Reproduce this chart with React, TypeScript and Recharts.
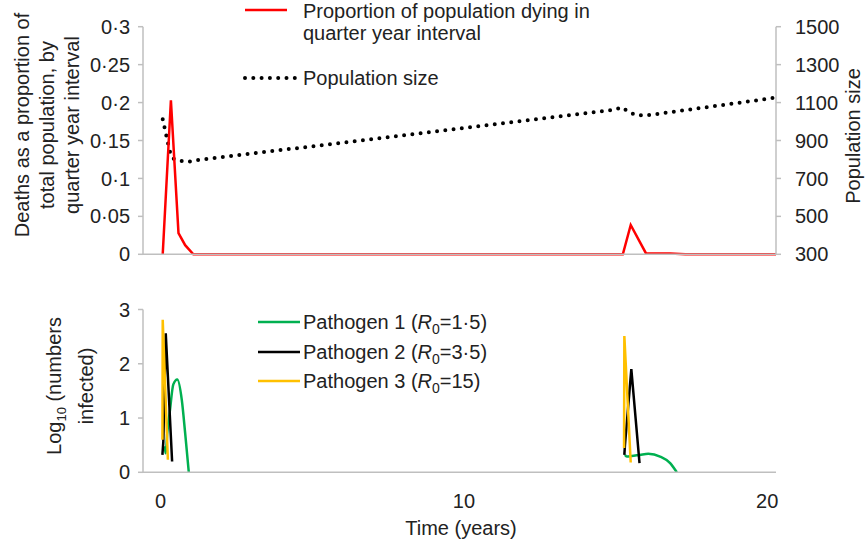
import { LineChart, Line, XAxis, YAxis } from "recharts";

const FONT = "'Liberation Sans', Arial, sans-serif";
const INK = "#222";
const AXIS = "#bfbfbf";

// x axis (years)
const X_DOMAIN = [-0.58, 20.29];
const X_TICKS = [0, 10, 20];

// top panel: deaths per quarter year + population size
const DEATH_TICKS = [0, 0.05, 0.1, 0.15, 0.2, 0.25, 0.3];
const POP_TICKS = [300, 500, 700, 900, 1100, 1300, 1500];

const deathTimes = [0.07, 0.34, 0.59, 0.81, 1.08, 15.24, 15.5, 16.0, 16.8, 17.3, 20.29];
const deathValues = [0, 0.203, 0.028, 0.012, 0, 0, 0.0386, 0.0015, 0.0012, 0, 0];

const popTimes = [0.07, 0.3, 0.4, 0.65, 0.92, 1.2, 14.95, 15.2, 15.42, 15.64, 15.92, 16.2, 20.2];
const popValues = [1012, 845, 806, 793, 788, 796, 1062, 1075, 1052, 1036, 1031, 1036, 1124];

// bottom panel: log10 numbers infected (null = gap between outbreaks)
const INFECT_TICKS = [0, 1, 2, 3];

const p1Times = [0.13, 0.17, 0.22, 0.31, 0.42, 0.55, 0.7, 0.81, 0.93, 8, 15.31, 15.37, 15.53, 15.8, 16.08, 16.47, 16.8, 17.02];
const p1Values = [0.48, 0.35, 0.72, 1.15, 1.62, 1.71, 1.33, 0.72, 0, null, 0.32, 0.29, 0.3, 0.32, 0.34, 0.29, 0.17, 0];

const p2Times = [0.06, 0.09, 0.17, 0.38, 8, 15.29, 15.31, 15.52, 15.79];
const p2Values = [0.32, 0.56, 2.56, 0.2, null, 0.32, 0.5, 1.9, 0.17];

const p3Times = [0.06, 0.07, 0.24, 8, 15.28, 15.29, 15.5];
const p3Values = [0.6, 2.81, 0.23, null, 0.45, 2.51, 0.18];

const rows = (times: number[], values: (number | null)[]) =>
  times.map((t, i) => ({ t, v: values[i] }));

const deathData = rows(deathTimes, deathValues);
const popData = rows(popTimes, popValues);
const p1Data = rows(p1Times, p1Values);
const p2Data = rows(p2Times, p2Values);
const p3Data = rows(p3Times, p3Values);

const tickStyle = { fontSize: 20, fill: INK, fontFamily: FONT };
const dotFormat = (v: number) => String(v).replace(".", "\u00b7");

const abs = (left: number, top: number): React.CSSProperties => ({
  position: "absolute",
  left,
  top,
  whiteSpace: "nowrap",
});

function RotatedLabel({ x, y, children }: { x: number; y: number; children: React.ReactNode }) {
  return (
    <div
      style={{
        position: "absolute",
        left: x,
        top: y,
        transform: "translate(-50%, -50%) rotate(-90deg)",
        textAlign: "center",
        lineHeight: "25px",
        whiteSpace: "nowrap",
      }}
    >
      {children}
    </div>
  );
}

function Swatch({ x, y, color, dotted }: { x: number; y: number; color: string; dotted?: boolean }) {
  return (
    <svg style={{ position: "absolute", left: x, top: y - 4 }} width={54} height={8}>
      <line
        x1={dotted ? 2 : 0}
        x2={dotted ? 52 : 42}
        y1={4}
        y2={4}
        stroke={color}
        strokeWidth={dotted ? 4 : 2.5}
        strokeDasharray={dotted ? "0 8.3" : undefined}
        strokeLinecap={dotted ? "round" : "butt"}
      />
    </svg>
  );
}

export default function App() {
  return (
    <div
      style={{
        position: "absolute",
        left: 0,
        top: 0,
        width: 867,
        height: 547,
        background: "#fff",
        fontFamily: FONT,
        fontSize: 20,
        color: INK,
      }}
    >
      <div style={{ position: "absolute", left: 0, top: 0 }}>
        <LineChart width={867} height={280} margin={{ top: 26.7, right: 0, bottom: 23.7, left: 0 }}>
          <XAxis
            type="number"
            dataKey="t"
            domain={X_DOMAIN}
            allowDataOverflow
            ticks={X_TICKS}
            tick={false}
            tickLine={false}
            height={2}
            stroke={AXIS}
            strokeWidth={1.5}
          />
          <YAxis
            yAxisId="left"
            orientation="left"
            width={143}
            domain={[0, 0.3]}
            ticks={DEATH_TICKS}
            tickFormatter={dotFormat}
            tick={tickStyle}
            tickSize={5}
            tickMargin={8}
            stroke={AXIS}
            strokeWidth={1.5}
          />
          <YAxis
            yAxisId="right"
            orientation="right"
            width={91}
            domain={[300, 1500]}
            ticks={POP_TICKS}
            tick={{ ...tickStyle, textAnchor: "start" }}
            tickSize={5}
            tickMargin={14}
            stroke={AXIS}
            strokeWidth={1.5}
          />
          <Line
            yAxisId="right"
            data={popData}
            dataKey="v"
            type="linear"
            stroke="#000"
            strokeWidth={4}
            strokeDasharray="0 8.3"
            strokeLinecap="round"
            dot={false}
            isAnimationActive={false}
          />
          <Line
            yAxisId="left"
            data={deathData}
            dataKey="v"
            type="linear"
            stroke="#ff0000"
            strokeWidth={2.5}
            dot={false}
            isAnimationActive={false}
          />
        </LineChart>
      </div>

      <div style={{ position: "absolute", left: 0, top: 280 }}>
        <LineChart width={867} height={267} margin={{ top: 29.5, right: 91, bottom: 44.7, left: 0 }}>
          <XAxis
            type="number"
            dataKey="t"
            domain={X_DOMAIN}
            allowDataOverflow
            ticks={X_TICKS}
            tick={tickStyle}
            tickLine={false}
            tickSize={0}
            tickMargin={21}
            height={30}
            stroke={AXIS}
            strokeWidth={1.5}
          />
          <YAxis
            width={143}
            domain={[0, 3]}
            ticks={INFECT_TICKS}
            tick={tickStyle}
            tickSize={5}
            tickMargin={8}
            stroke={AXIS}
            strokeWidth={1.5}
          />
          <Line data={p1Data} dataKey="v" type="monotone" stroke="#00b050" strokeWidth={2.5} dot={false} isAnimationActive={false} />
          <Line data={p2Data} dataKey="v" type="linear" stroke="#000" strokeWidth={2.5} dot={false} isAnimationActive={false} />
          <Line data={p3Data} dataKey="v" type="linear" stroke="#ffc000" strokeWidth={2.5} dot={false} isAnimationActive={false} />
        </LineChart>
      </div>

      {/* axis titles */}
      <RotatedLabel x={47} y={125}>
        Deaths as a proportion of
        <br />
        total population, by
        <br />
        quarter year interval
      </RotatedLabel>
      <RotatedLabel x={853} y={136}>Population size</RotatedLabel>
      <RotatedLabel x={70} y={386}>
        Log<sub style={{ fontSize: 13 }}>10</sub> (numbers
        <br />
        infected)
      </RotatedLabel>
      <div style={{ ...abs(461, 516), transform: "translateX(-50%)", lineHeight: "24px" }}>Time (years)</div>

      {/* top legend */}
      <Swatch x={245} y={10} color="#ff0000" />
      <div style={{ ...abs(303, 0), lineHeight: "22px" }}>
        Proportion of population dying in
        <br />
        quarter year interval
      </div>
      <Swatch x={243} y={78} color="#000" dotted />
      <div style={{ ...abs(303, 66), lineHeight: "24px" }}>Population size</div>

      {/* bottom legend */}
      {[
        { c: "#00b050", y: 322, label: "Pathogen 1", r: "1\u00b75" },
        { c: "#000", y: 352, label: "Pathogen 2", r: "3\u00b75" },
        { c: "#ffc000", y: 381, label: "Pathogen 3", r: "15" },
      ].map((d) => (
        <div key={d.label}>
          <Swatch x={258} y={d.y} color={d.c} />
          <div style={{ ...abs(303, d.y - 12), lineHeight: "24px" }}>
            {d.label} (<i>R</i>
            <sub style={{ fontSize: 14 }}>0</sub>={d.r})
          </div>
        </div>
      ))}
    </div>
  );
}
